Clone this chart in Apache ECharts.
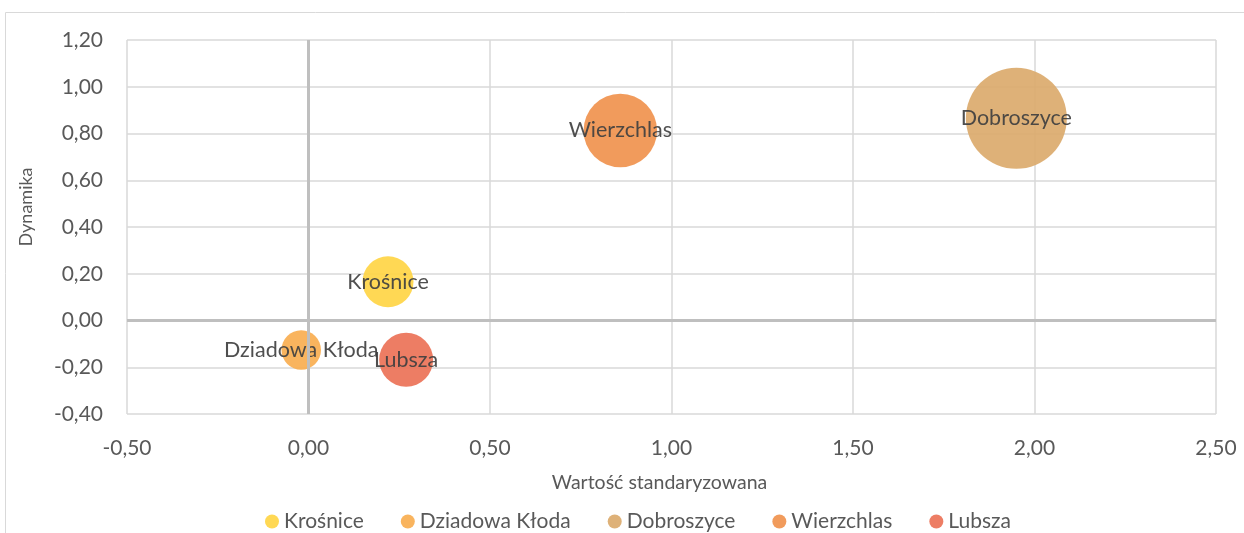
<!DOCTYPE html>
<html>
<head>
<meta charset="utf-8">
<script src="https://cdn.jsdelivr.net/npm/echarts@6/dist/echarts.min.js"></script>
<style>
html,body{margin:0;padding:0;background:#fff;}
#chart{width:1244px;height:533px;}
</style>
</head>
<body>
<div id="chart"></div>
<script>
// Data
const names = ['Krośnice', 'Dziadowa Kłoda', 'Dobroszyce', 'Wierzchlas', 'Lubsza'];
const xValues = [0.219, -0.020, 1.950, 0.859, 0.269];   // Wartość standaryzowana
const yValues = [0.166, -0.126, 0.865, 0.813, -0.168];  // Dynamika
const bubbleValues = [25.5, 15.3, 100, 53, 28.6];       // relative bubble size (area)
const colors = ['#FFD545', '#F8AE50', '#DBAA6C', '#F0924E', '#EC7257'];

const xTicks = { min: -0.5, max: 2.5, interval: 0.5 };
const yTicks = { min: -0.4, max: 1.2, interval: 0.2 };

const FONT = 'Lato, "Open Sans", sans-serif';
const fmt = v => v.toFixed(2).replace('.', ',');
const maxDiameter = 101;
const sizeOf = v => maxDiameter * Math.sqrt(v / Math.max(...bubbleValues));

const chart = echarts.init(document.getElementById('chart'), null, { renderer: 'canvas' });

const series = names.map((n, i) => ({
  name: n,
  type: 'scatter',
  z: 3,
  data: [[xValues[i], yValues[i], bubbleValues[i]]],
  symbol: 'circle',
  symbolSize: d => sizeOf(d[2]),
  itemStyle: { color: colors[i], opacity: 0.92 },
  label: {
    show: true,
    position: 'inside',
    formatter: n,
    color: '#404040',
    fontSize: 21.5,
    fontFamily: FONT
  },
  emphasis: { disabled: true }
}));

series.unshift({
  name: 'zero',
  type: 'scatter',
  z: 1,
  data: [],
  silent: true,
  markLine: {
    silent: true,
    symbol: ['none', 'none'],
    label: { show: false },
    lineStyle: { color: '#BFBFBF', width: 3, type: 'solid' },
    emphasis: { disabled: true },
    animation: false,
    data: [{ xAxis: 0 }, { yAxis: 0 }]
  }
});

chart.setOption({
  animation: false,
  graphic: [{
    type: 'rect',
    shape: { x: 5.5, y: 12.5, width: 1400, height: 700 },
    style: { fill: null, stroke: '#D9D9D9', lineWidth: 1 },
    z: -10
  }],
  grid: { left: 127, right: 28, top: 40, bottom: 119, containLabel: false },
  xAxis: {
    type: 'value',
    min: xTicks.min, max: xTicks.max, interval: xTicks.interval,
    name: 'Wartość standaryzowana',
    nameLocation: 'middle',
    nameGap: 59,
    nameTextStyle: { color: '#595959', fontSize: 19.5, fontFamily: FONT, padding: [0, 24, 0, 0] },
    axisLine: { show: false },
    axisTick: { show: false },
    axisLabel: { color: '#595959', fontSize: 21, fontFamily: FONT, margin: 24, formatter: fmt },
    splitLine: { show: true, lineStyle: { color: '#D9D9D9', width: 1.5 } }
  },
  yAxis: {
    type: 'value',
    min: yTicks.min, max: yTicks.max, interval: yTicks.interval,
    name: 'Dynamika',
    nameLocation: 'middle',
    nameGap: 92,
    nameTextStyle: { color: '#595959', fontSize: 18, fontFamily: FONT, padding: [0, 0, 0, 40] },
    axisLine: { show: false },
    axisTick: { show: false },
    axisLabel: { color: '#595959', fontSize: 21, fontFamily: FONT, margin: 24, formatter: fmt },
    splitLine: { show: true, lineStyle: { color: '#D9D9D9', width: 1.5 } }
  },
  legend: {
    data: names,
    top: 506,
    left: 260,
    icon: 'circle',
    itemWidth: 14,
    itemHeight: 14,
    itemGap: 37,
    textStyle: { color: '#595959', fontSize: 21, fontFamily: FONT },
    selectedMode: false
  },
  series: series
});
</script>
</body>
</html>
